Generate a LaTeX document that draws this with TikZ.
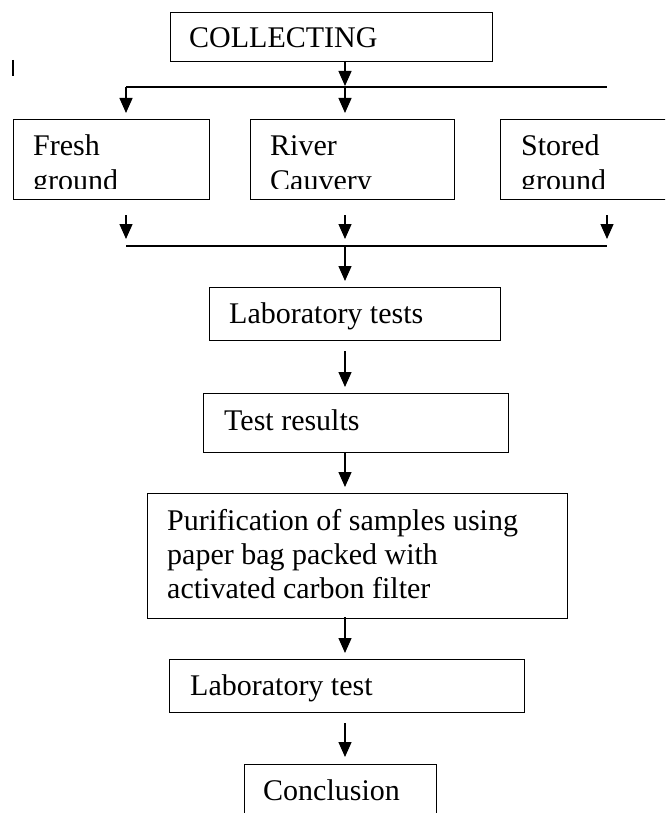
\documentclass[tikz,border=0pt]{standalone}
\usepackage{fontspec}
\setmainfont{Liberation Serif}
\usetikzlibrary{arrows.meta}
\tikzset{
  boxline/.style={draw=black, line width=1.3pt, inner sep=0pt, anchor=north west},
  lbl/.style={inner sep=0pt, anchor=base west, font=\fontsize{30}{34}\selectfont},
  conn/.style={line width=1.3pt, -{Triangle[length=15pt,width=13pt]}},
  bar/.style={line width=1.3pt}
}
\begin{document}
\begin{tikzpicture}[x=1pt,y=-1pt]
\clip (0,0) rectangle (665,813);
\fill[white] (0,0) rectangle (665,813);
% boxes
\node[boxline, minimum width=322pt, minimum height=49pt] (collect) at (169.5,12) {};
\node[boxline, minimum width=196pt, minimum height=80pt] (fresh) at (13,119) {};
\node[boxline, minimum width=204pt, minimum height=80pt] (river) at (250,119) {};
\node[boxline, minimum width=180pt, minimum height=80pt] (stored) at (500,119) {};
\node[boxline, minimum width=291pt, minimum height=53pt] (labs) at (209,287) {};
\node[boxline, minimum width=305pt, minimum height=59pt] (results) at (203,393) {};
\node[boxline, minimum width=420pt, minimum height=125pt] (purif) at (147,493) {};
\node[boxline, minimum width=355pt, minimum height=53pt] (labt) at (169,659) {};
\node[boxline, minimum width=192pt, minimum height=80pt] (concl) at (244,764) {};
% texts
\node[lbl] (tcollect) at (189,48) {COLLECTING};
\begin{scope}
\clip (0,119) rectangle (665,188);
\node[lbl] (tfresh1) at (33,156) {Fresh};
\node[lbl] (tfresh2) at (33,190) {ground};
\node[lbl] (triver1) at (270,156) {River};
\node[lbl] (triver2) at (270,190) {Cauvery};
\node[lbl] (tstored1) at (521,156) {Stored};
\node[lbl] (tstored2) at (521,190) {ground};
\end{scope}
\node[lbl] (tlabs) at (229,323) {Laboratory tests};
\node[lbl] (tresults) at (224,430) {Test results};
\node[lbl] (tpurif1) at (167,530) {Purification of samples using};
\node[lbl] (tpurif2) at (167,564.5) {paper bag packed with};
\node[lbl] (tpurif3) at (167,598) {activated carbon filter};
\node[lbl] (tlabt) at (190,695) {Laboratory test};
\node[lbl] (tconcl) at (263,800) {Conclusion};
% stray tick
\coordinate (tickA) at (13,60);
\coordinate (tickB) at (13,76);
\draw[bar] (tickA) -- (tickB);
% junction coordinates
\coordinate (s1) at (345,61);
\coordinate (e1) at (345,86);
\coordinate (barL) at (126,87);
\coordinate (barM) at (345,87);
\coordinate (barR) at (607,87);
\coordinate (fIn) at (126,113);
\coordinate (rIn) at (345,113);
\coordinate (fOutS) at (126,215);
\coordinate (fOutE) at (126,239);
\coordinate (rOutS) at (345,215);
\coordinate (rOutE) at (345,239);
\coordinate (sOutS) at (607,215);
\coordinate (sOutE) at (607,239);
\coordinate (bar2L) at (126,246);
\coordinate (bar2M) at (345,246);
\coordinate (bar2R) at (607,246);
\coordinate (labsIn) at (345,281);
\coordinate (labsOut) at (345,351);
\coordinate (resIn) at (345,387);
\coordinate (resOut) at (345,452);
\coordinate (purIn) at (345,487);
\coordinate (purOut) at (345,617);
\coordinate (labtIn) at (345,653);
\coordinate (labtOut) at (345,723);
\coordinate (conIn) at (345,757);
% connectors
\draw[conn] (s1) -- (e1);
\draw[bar] (barL) -- (barR);
\draw[conn] (barL) -- (fIn);
\draw[conn] (barM) -- (rIn);
\draw[conn] (fOutS) -- (fOutE);
\draw[conn] (rOutS) -- (rOutE);
\draw[conn] (sOutS) -- (sOutE);
\draw[bar] (bar2L) -- (bar2R);
\draw[conn] (bar2M) -- (labsIn);
\draw[conn] (labsOut) -- (resIn);
\draw[conn] (resOut) -- (purIn);
\draw[conn] (purOut) -- (labtIn);
\draw[conn] (labtOut) -- (conIn);
\end{tikzpicture}
\end{document}
